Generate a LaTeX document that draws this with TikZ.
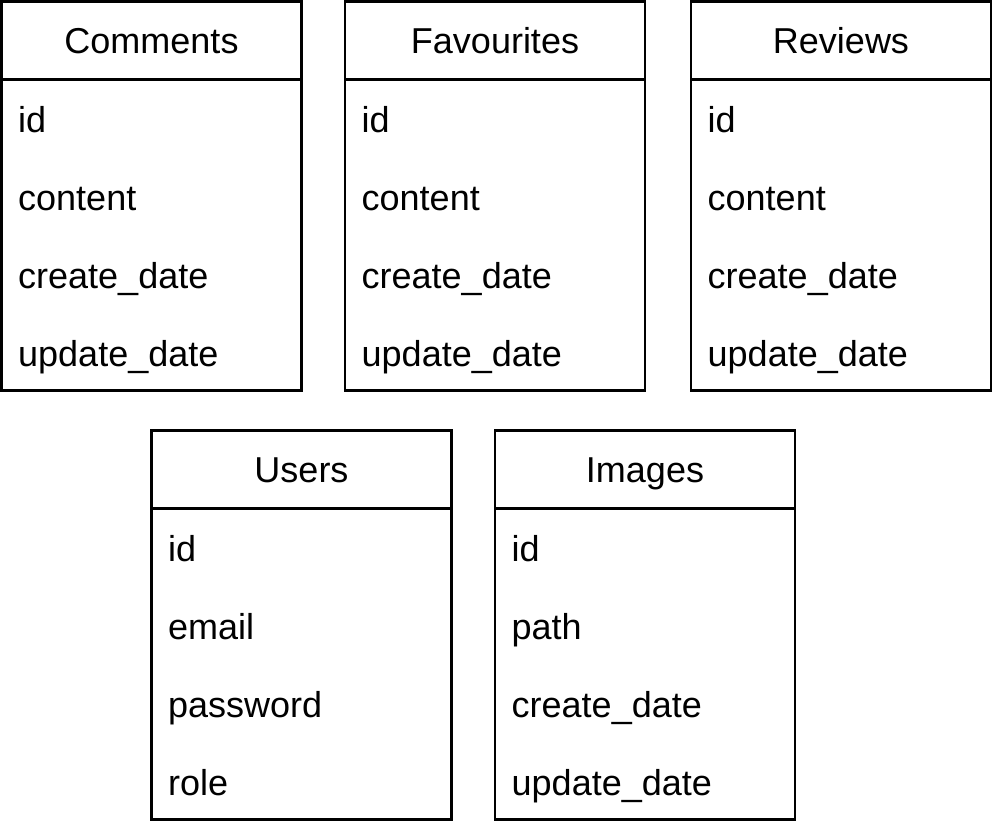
\documentclass[tikz,border=0pt]{standalone}
\usepackage{fontspec}
\setmainfont{Liberation Sans}
\newcommand\ertable[5]{%
  \node[bdy] (#1-body) at (#2,#3+78) {};
  \node[hdr] (#1-head) at (#2,#3) {};
  \node[ttl] (#1-title) at (#2+150,#3+51.5) {#4};
  \foreach \f [count=\i] in {#5} \node[fld] (#1-f\i) at (#2+16.5,#3+130.5+78*\i-78) {\f};
}
\begin{document}
\begin{tikzpicture}[x=1pt,y=-1pt,
  frame/.style={draw=black,line width=2.5pt,minimum width=300pt,inner sep=0pt,outer sep=0pt,anchor=north west},
  hdr/.style={frame,minimum height=78pt},
  bdy/.style={frame,minimum height=311pt},
  fld/.style={anchor=base west,inner sep=0pt,font=\fontsize{36}{43}\selectfont},
  ttl/.style={anchor=base,inner sep=0pt,font=\fontsize{36}{43}\selectfont}]
\useasboundingbox (0,0) rectangle (996,831);
\ertable{comments}{1.5}{1.5}{Comments}{id,content,create\_date,update\_date}
\ertable{favourites}{345}{1.5}{Favourites}{id,content,create\_date,update\_date}
\ertable{reviews}{691}{1.5}{Reviews}{id,content,create\_date,update\_date}
\ertable{users}{151.5}{430.5}{Users}{id,email,password,role}
\ertable{images}{495}{430.5}{Images}{id,path,create\_date,update\_date}
\end{tikzpicture}
\end{document}
